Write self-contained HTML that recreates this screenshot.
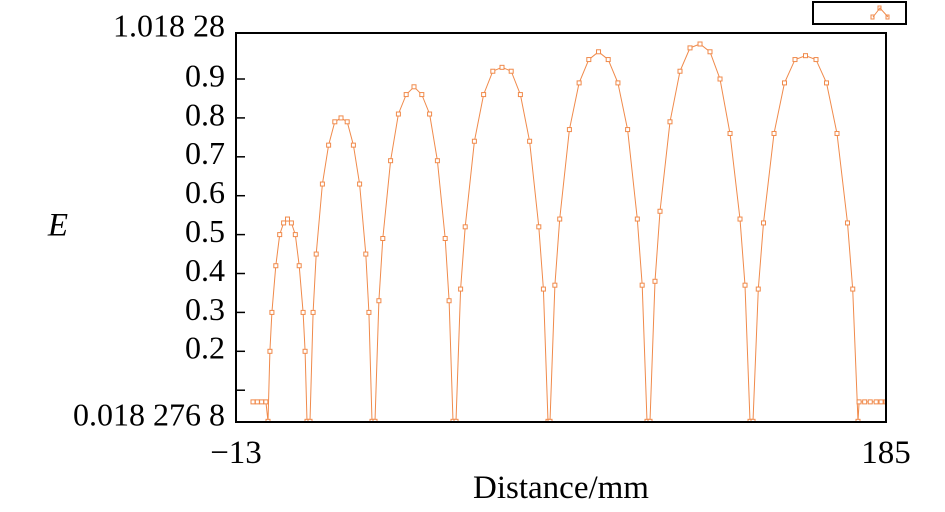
<!DOCTYPE html>
<html><head><meta charset="utf-8"><style>
body{margin:0;background:#fff;}
svg text{font-family:"Liberation Serif",serif;fill:#000;}
</style></head><body>
<svg width="945" height="507" viewBox="0 0 945 507" id="chart">
<rect x="813" y="2" width="93" height="22" fill="#fff" stroke="#000" stroke-width="2"/>
<g stroke="#f08a4b" fill="none" stroke-width="1">
<polyline points="873,17 880,8 888,17"/><rect x="871" y="15" width="3" height="4"/><rect x="886" y="15" width="3" height="4"/><rect x="878" y="6" width="3" height="4"/>
</g>
<defs><clipPath id="pc"><rect x="236" y="33" width="650" height="389"/></clipPath></defs>
<g id="series" clip-path="url(#pc)"></g>
<g id="axes"></g>
<rect x="236" y="33" width="650" height="389" fill="none" stroke="#000" stroke-width="2"/>
<text x="58" y="228" font-size="33" font-style="italic" text-anchor="middle" dominant-baseline="middle">E</text>
<text x="561" y="498" font-size="33" text-anchor="middle">Distance/mm</text>
</svg>
<script>
const xs = [-7.82,-6.5,-5.2,-3.9,
-3.25,-2.66,-2.06,-0.87,0.31,1.50,2.69,3.88,5.07,6.25,7.44,8.04,8.63,
9.54,10.48,11.43,13.32,15.21,17.10,18.99,20.87,22.76,24.65,26.54,27.49,28.43,
29.34,30.53,31.72,34.09,36.47,38.84,41.22,43.60,45.97,48.35,50.72,51.91,53.10,
54.02,55.42,56.82,59.62,62.43,65.23,68.03,70.83,73.63,76.44,79.24,80.64,82.04,
82.65,84.13,85.61,88.56,91.52,94.47,97.43,100.38,103.34,106.29,109.25,110.72,112.20,
113.11,114.63,116.16,119.20,122.25,125.30,128.35,131.39,134.44,137.49,140.53,142.06,143.58,
144.49,146.09,147.69,150.89,154.08,157.28,160.48,163.68,166.88,170.08,173.27,174.87,176.47,
176.8,178.5,180.2,182,183.5,185];
const ys = [0.07,0.07,0.07,0.07,
0.02,0.20,0.30,0.42,0.50,0.53,0.54,0.53,0.50,0.42,0.30,0.20,0.02,
0.02,0.30,0.45,0.63,0.73,0.79,0.80,0.79,0.73,0.63,0.45,0.30,0.02,
0.02,0.33,0.49,0.69,0.81,0.86,0.88,0.86,0.81,0.69,0.49,0.33,0.02,
0.02,0.36,0.52,0.74,0.86,0.92,0.93,0.92,0.86,0.74,0.52,0.36,0.02,
0.02,0.37,0.54,0.77,0.89,0.95,0.97,0.95,0.89,0.77,0.54,0.37,0.02,
0.02,0.38,0.56,0.79,0.92,0.98,0.99,0.97,0.90,0.76,0.54,0.37,0.02,
0.02,0.36,0.53,0.76,0.89,0.95,0.96,0.95,0.89,0.76,0.53,0.36,0.02,
0.07,0.07,0.07,0.07,0.07,0.07];
const yTicks = [0.1,0.2,0.3,0.4,0.5,0.6,0.7,0.8,0.9];
const yTickLabels = ["","0.2","0.3","0.4","0.5","0.6","0.7","0.8","0.9"];
const yEnds = [0.0182768, 1.01828];
const yEndLabels = ["0.018 276 8","1.018 28"];
const xEnds = [-13, 185];
const xEndLabels = ["\u221213","185"];

const X0=236,X1=886,Y0=422,Y1=33;
const sx=v=>X0+(v-xEnds[0])/(xEnds[1]-xEnds[0])*(X1-X0);
const sy=v=>Y0-(v-yEnds[0])/(yEnds[1]-yEnds[0])*(Y0-Y1);
const NS="http://www.w3.org/2000/svg";
const ser=document.getElementById('series'), ax=document.getElementById('axes');
function mk(t,a,p){const e=document.createElementNS(NS,t);for(const k in a)e.setAttribute(k,a[k]);p.appendChild(e);return e;}
const line=mk('polyline',{points:xs.map((x,i)=>sx(x).toFixed(1)+','+sy(Math.max(ys[i],-0.05)).toFixed(1)).join(' '),fill:'none',stroke:'#f08a4b','stroke-width':1},ser);


xs.forEach((x,i)=>{const r=mk('rect',{x:sx(x)-2,y:sy(ys[i])-2,width:4,height:4,fill:'#fff',stroke:'#f08a4b','stroke-width':1},ser);

});
yTicks.forEach((v,i)=>{const y=sy(v);mk('line',{x1:X0,x2:X0+9,y1:y,y2:y,stroke:'#000','stroke-width':1.5},ax);
if(yTickLabels[i]){const t=mk('text',{x:225,y:y,'font-size':32,'text-anchor':'end','dominant-baseline':'middle'},ax);t.textContent=yTickLabels[i];

}});
yEnds.forEach((v,i)=>{const t=mk('text',{x:225,y:sy(v)-4,'font-size':32,'text-anchor':'end','dominant-baseline':'middle'},ax);t.textContent=yEndLabels[i];

});
xEnds.forEach((v,i)=>{const t=mk('text',{x:sx(v),y:463,'font-size':33,'text-anchor':'middle'},ax);t.textContent=xEndLabels[i];

});
</script>
</body></html>
